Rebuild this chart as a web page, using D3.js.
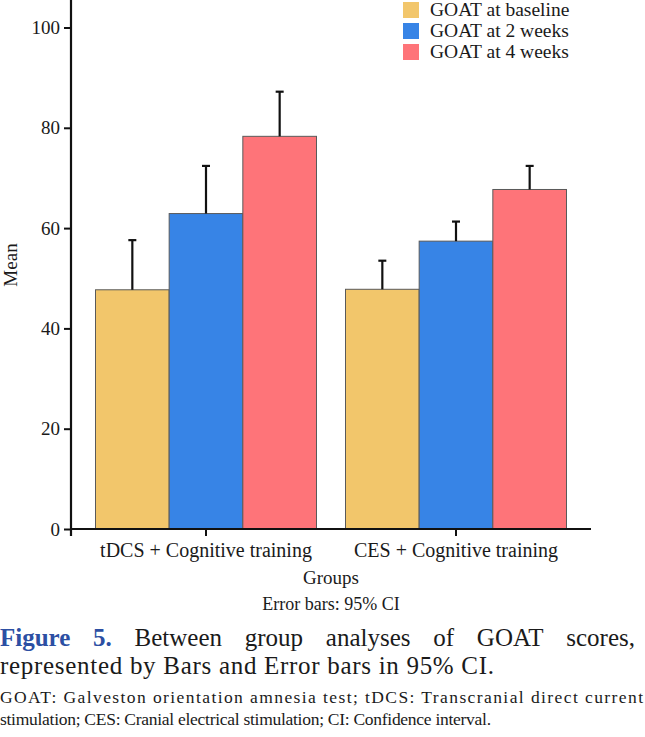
<!DOCTYPE html>
<html>
<head>
<meta charset="utf-8">
<script src="https://cdn.jsdelivr.net/npm/d3@7"></script>
<style>
  body { margin: 0; background: #fff; }
  text { font-family: "Liberation Serif", "DejaVu Serif", serif; fill: #1a1a1a; }
</style>
</head>
<body>
<svg id="canvas"></svg>
<script>
// data
const groups = ["tDCS + Cognitive training", "CES + Cognitive training"];
const seriesNames = ["GOAT at baseline", "GOAT at 2 weeks", "GOAT at 4 weeks"];
const meanTDCS = [47.7, 62.9, 78.3];
const meanCES = [47.8, 57.4, 67.7];
const upperTDCS = [57.6, 72.4, 87.2];
const upperCES = [53.5, 61.3, 72.4];
const yTicks = [0, 20, 40, 60, 80, 100];
const colors = ["#f2c66b", "#3784e6", "#fe7479"];

const means = [meanTDCS, meanCES];
const uppers = [upperTDCS, upperCES];
const rows = [];
groups.forEach((g, gi) => {
  seriesNames.forEach((s, si) => {
    rows.push({group: g, series: s, mean: means[gi][si], upper: uppers[gi][si], i: si});
  });
});

const width = 645, height = 737;
const svg = d3.select("#canvas").attr("width", width).attr("height", height);

// plot box
const left = 71, right = 591, bottom = 529;

const xScale = d3.scaleBand()
  .domain(groups)
  .range([left, right])
  .paddingInner(0.116)
  .paddingOuter(0.098);

const xInner = d3.scaleBand()
  .domain(seriesNames)
  .range([0, xScale.bandwidth()]);

const yScale = d3.scaleLinear()
  .domain([0, 100])
  .range([bottom, 27.5]);

// bars
svg.append("g")
  .selectAll("rect")
  .data(rows)
  .join("rect")
    .attr("x", d => xScale(d.group) + xInner(d.series))
    .attr("y", d => yScale(d.mean))
    .attr("width", xInner.bandwidth())
    .attr("height", d => yScale(0) - yScale(d.mean))
    .attr("fill", d => colors[d.i])
    .attr("stroke", "#5a5a5a")
    .attr("stroke-width", 1);

// error bars (upper half only shows above the bar)
const eb = svg.append("g").attr("stroke", "#111").attr("stroke-width", 2.2);
const cx = d => xScale(d.group) + xInner(d.series) + xInner.bandwidth() / 2;
eb.selectAll("line.w")
  .data(rows)
  .join("line")
    .attr("class", "w")
    .attr("x1", cx).attr("x2", cx)
    .attr("y1", d => yScale(d.mean))
    .attr("y2", d => yScale(d.upper));
eb.selectAll("line.c")
  .data(rows)
  .join("line")
    .attr("class", "c")
    .attr("x1", d => cx(d) - 4).attr("x2", d => cx(d) + 4)
    .attr("y1", d => yScale(d.upper))
    .attr("y2", d => yScale(d.upper));

// y axis
const yAxis = svg.append("g")
  .attr("transform", `translate(${left},0)`)
  .call(d3.axisLeft(yScale).tickValues(yTicks).tickSize(7).tickPadding(4).tickSizeOuter(0));
yAxis.select(".domain").remove();
yAxis.selectAll(".tick line").attr("stroke", "#111").attr("stroke-width", 2);
yAxis.selectAll(".tick text")
  .attr("font-family", "Liberation Serif")
  .attr("font-size", 19)
  .attr("fill", "#1a1a1a");

// x axis
const xAxis = svg.append("g")
  .attr("transform", `translate(0,${bottom})`)
  .call(d3.axisBottom(xScale).tickSize(7).tickPadding(7).tickSizeOuter(0));
xAxis.select(".domain").remove();
xAxis.selectAll(".tick line").attr("stroke", "#111").attr("stroke-width", 2);
xAxis.selectAll(".tick text")
  .attr("font-family", "Liberation Serif")
  .attr("font-size", 20)
  .attr("fill", "#1a1a1a");

// axis lines
svg.append("line")
  .attr("x1", left).attr("x2", left)
  .attr("y1", 0).attr("y2", bottom + 7)
  .attr("stroke", "#111").attr("stroke-width", 2.2);
svg.append("line")
  .attr("x1", left).attr("x2", right)
  .attr("y1", bottom).attr("y2", bottom)
  .attr("stroke", "#111").attr("stroke-width", 2.2);

// axis titles
svg.append("text")
  .attr("transform", `translate(17,265) rotate(-90)`)
  .attr("text-anchor", "middle")
  .attr("font-size", 19)
  .text("Mean");
svg.append("text")
  .attr("x", 331).attr("y", 584)
  .attr("text-anchor", "middle")
  .attr("font-size", 19)
  .text("Groups");
svg.append("text")
  .attr("x", 331).attr("y", 610)
  .attr("text-anchor", "middle")
  .attr("font-size", 18)
  .text("Error bars: 95% CI");

// legend
const legend = svg.append("g")
  .selectAll("g")
  .data(seriesNames)
  .join("g")
    .attr("transform", (d, i) => `translate(403,${2 + i * 21})`);
legend.append("rect")
  .attr("width", 16).attr("height", 16)
  .attr("fill", (d, i) => colors[i]);
legend.append("text")
  .attr("x", 27).attr("y", 14)
  .attr("font-size", 19.5)
  .text(d => d);

// caption
function justify(words, x0, x1, y, size, styler) {
  const g = svg.append("g");
  const nodes = words.map(w => {
    const t = g.append("text").attr("y", y).attr("font-size", size).text(w);
    if (styler) styler(t, w);
    return t;
  });
  const widths = nodes.map(t => t.node().getComputedTextLength());
  const gap = (x1 - x0 - d3.sum(widths)) / (words.length - 1);
  let x = x0;
  nodes.forEach((t, i) => { t.attr("x", x); x += widths[i] + gap; });
}

const capWords = ["Figure", "5.", "Between", "group", "analyses", "of", "GOAT", "scores,"];
justify(capWords, 0, 635, 646, 25, (t, w) => {
  if (w === "Figure" || w === "5.") {
    t.attr("font-weight", "bold").style("fill", "#2c4fa3");
  }
});
svg.append("text")
  .attr("x", 0).attr("y", 674)
  .attr("font-size", 25)
  .attr("textLength", 494)
  .attr("lengthAdjust", "spacing")
  .text("represented by Bars and Error bars in 95% CI.");

svg.append("text")
  .attr("x", 0).attr("y", 703)
  .attr("font-size", 17.5)
  .attr("textLength", 643)
  .attr("lengthAdjust", "spacing")
  .text("GOAT: Galveston orientation amnesia test; tDCS: Transcranial direct current");
svg.append("text")
  .attr("x", 0).attr("y", 725)
  .attr("font-size", 17.5)
  .attr("textLength", 491)
  .attr("lengthAdjust", "spacing")
  .text("stimulation; CES: Cranial electrical stimulation; CI: Confidence interval.");
</script>
</body>
</html>
